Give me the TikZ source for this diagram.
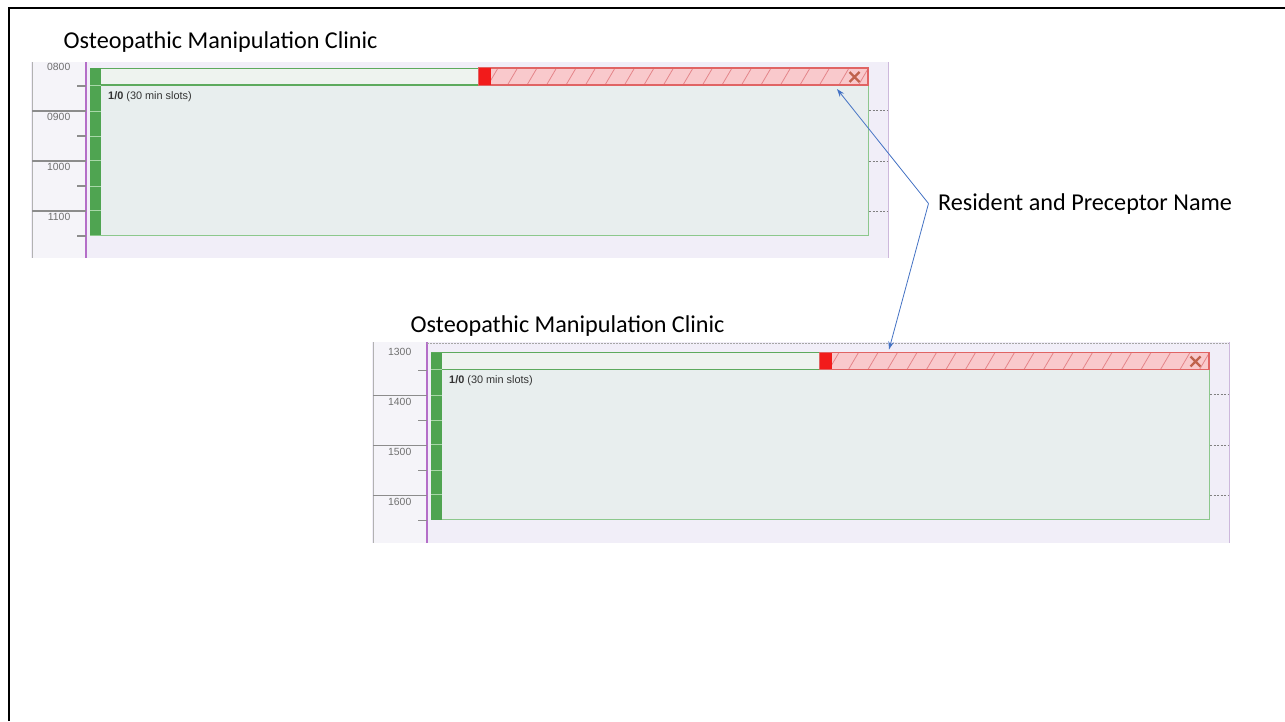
\documentclass[tikz,border=0pt]{standalone}
\usepackage{fontspec}
\setmainfont{Carlito}
\newfontfamily\uifont{Liberation Sans}
\usetikzlibrary{arrows.meta}
\definecolor{panelbg}{HTML}{F1EEF8}
\definecolor{timebg}{HTML}{F5F4F9}
\definecolor{purpleline}{HTML}{B46EC8}
\definecolor{lightpurple}{HTML}{CDB8DC}
\definecolor{hourgray}{HTML}{8C8C8C}
\definecolor{slotfill}{HTML}{E8EEEE}
\definecolor{headfill}{HTML}{EEF3EF}
\definecolor{slotborder}{HTML}{8CC88C}
\definecolor{greenbar}{HTML}{4FA451}
\definecolor{greensep}{HTML}{A8D8A8}
\definecolor{headgreen}{HTML}{5DAA5D}
\definecolor{redfill}{HTML}{F9C9CC}
\definecolor{redborder}{HTML}{E06464}
\definecolor{hatchred}{HTML}{E4858A}
\definecolor{redsq}{HTML}{F21B1B}
\definecolor{xmark}{HTML}{C0624C}
\definecolor{arrowblue}{HTML}{4472C4}
\definecolor{labelgray}{HTML}{707070}
\definecolor{textdark}{HTML}{333333}
\tikzset{
  titletext/.style={inner sep=0pt, anchor=west, font=\fontsize{24.2}{28}\selectfont, text=black},
  hourlbl/.style={inner sep=0pt, anchor=east, font=\uifont\fontsize{10.4}{12}\selectfont, text=labelgray},
  slottxt/.style={inner sep=0pt, anchor=west, font=\uifont\fontsize{10.9}{12}\selectfont, text=textdark},
  hourline/.style={draw=hourgray, line width=1.1pt},
  dashline/.style={draw=gray, line width=0.8pt, dash pattern=on 2pt off 1.5pt},
  pointer/.style={draw=arrowblue, line width=0.8pt, -{Stealth[length=8pt,width=5.5pt]}},
  frameline/.style={draw=black, line width=2.3pt}
}
% #1 prefix, #2 shift, #3..#6 hour labels, #7 top of panel
\newcommand\clinicpanel[7]{%
\begin{scope}[shift={#2}]
  \fill[panelbg] (31,#7) rectangle (888,258);
  \fill[timebg] (32,#7) rectangle (86,258);
  \draw[draw=gray!60, line width=1pt] (32,#7) -- (32,258);
  \draw[draw=purpleline, line width=1.6pt] (86,#7) -- (86,258);
  \draw[draw=lightpurple, line width=1pt] (888,#7) -- (888,258);
  \foreach \yy in {111,161,211} \draw[hourline] (32,\yy) -- (86,\yy);
  \foreach \yy in {86,136,186,236} \draw[hourline] (77,\yy) -- (86,\yy);
  \foreach \yy in {110,161,211} \draw[dashline] (869,\yy) -- (887,\yy);
  \node[hourlbl] (#1ha) at (70.5,67) {#3};
  \node[hourlbl] (#1hb) at (70.5,117) {#4};
  \node[hourlbl] (#1hc) at (70.5,167) {#5};
  \node[hourlbl] (#1hd) at (70.5,217) {#6};
  % main slot body
  \draw[draw=slotborder, fill=slotfill, line width=0.9pt] (90,85) rectangle (868,235);
  % header row
  \draw[draw=headgreen, fill=headfill, line width=0.9pt] (90,68) rectangle (479,85);
  \draw[draw=headgreen, line width=1.6pt] (101,85) -- (479,85);
  % red hatched part
  \fill[redfill] (479,68) rectangle (868,85);
  \begin{scope}
    \clip (479,68) rectangle (868,85);
    \foreach \xx in {498,517.5,...,880} \draw[draw=hatchred, line width=0.8pt] (\xx-10,85) -- (\xx,68);
  \end{scope}
  \draw[draw=redborder, line width=1.1pt] (479,68) rectangle (868,85);
  \fill[redsq] (479,68) rectangle (491,84.5);
  \draw[draw=xmark, line width=2.2pt] (849.5,72) -- (859.5,82) (849.5,82) -- (859.5,72);
  % green bar
  \fill[greenbar] (90,68) rectangle (101,235);
  \foreach \yy in {85,111,136,160,186,210} \draw[draw=greensep, line width=0.8pt] (90,\yy) -- (101,\yy);
  \node[slottxt] (#1slot) at (108,96.5) {\textbf{1/0} (30 min slots)};
\end{scope}}
\begin{document}
\begin{tikzpicture}[x=1pt,y=-1pt]
\useasboundingbox (0,0) rectangle (1285,721);
\fill[white] (0,0) rectangle (1285,721);
\draw[frameline] (9.2,721) -- (9.2,8) -- (1285,8);
% panels
\clinicpanel{p}{(0,0)}{0800}{0900}{1000}{1100}{62}
\clinicpanel{q}{(341,284.5)}{1300}{1400}{1500}{1600}{57.5}
\draw[draw=gray!70, line width=0.8pt, dash pattern=on 1.5pt off 1.5pt] (427,343) -- (1229,343);
% titles
\node[titletext] (t1) at (63.5,42) {Osteopathic Manipulation Clinic};
\node[titletext] (t2) at (410.5,326) {Osteopathic Manipulation Clinic};
% callout
\node[titletext] (lbl) at (938,204) {Resident and Preceptor Name};
\coordinate (v) at (928.5,203.5);
\coordinate (tipa) at (837,89);
\coordinate (tipb) at (889,349.5);
\draw[pointer] (v) -- (tipa);
\draw[pointer] (v) -- (tipb);
\end{tikzpicture}
\end{document}
